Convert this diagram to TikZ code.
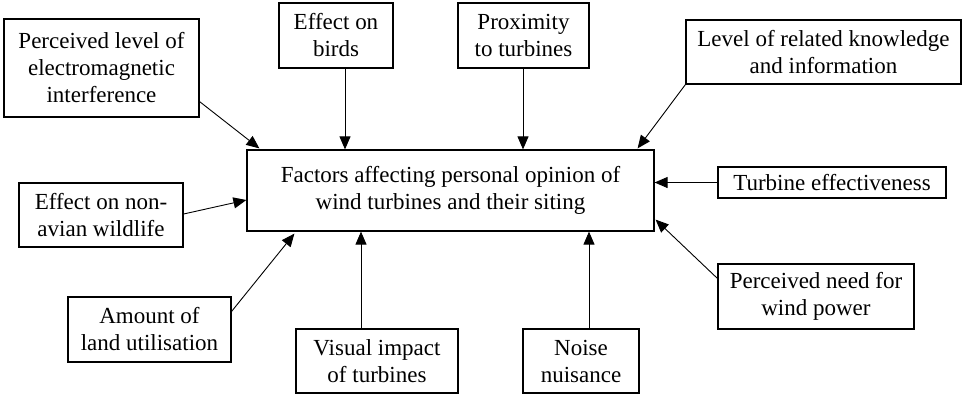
\documentclass[tikz,border=0pt]{standalone}
\usepackage{fontspec}
\setmainfont{Liberation Serif}
\usetikzlibrary{arrows.meta,calc}

\tikzset{
  factor/.style={draw=black, line width=1.2pt, fill=white, align=center, inner sep=0pt,
    font=\fontsize{23}{27}\selectfont},
  feed/.style={draw=black, line width=0.9pt, -{Triangle[length=13pt,width=11pt]}}
}

\begin{document}
\begin{tikzpicture}[x=1pt,y=-1pt]
\useasboundingbox (0,0) rectangle (962,394);

% central box
\node[factor, minimum width=407pt, minimum height=81pt] (center) at (450.5,190.5)
  {Factors affecting personal opinion of\\wind turbines and their siting};

% surrounding factors
\node[factor, minimum width=195pt, minimum height=98pt] (pel) at (101.5,68)
  {Perceived level of\\electromagnetic\\interference};
\node[factor, minimum width=114pt, minimum height=65pt] (birds) at (336,35.5)
  {Effect on\\birds};
\node[factor, minimum width=131pt, minimum height=65pt] (prox) at (523.5,35.5)
  {Proximity\\to turbines};
\node[factor, minimum width=275pt, minimum height=64pt] (know) at (823.5,52)
  {Level of related knowledge\\and information};
\node[factor, minimum width=228pt, minimum height=31pt] (eff) at (832,182.5)
  {Turbine effectiveness};
\node[factor, minimum width=196pt, minimum height=65pt] (need) at (816,296.5)
  {Perceived need for\\wind power};
\node[factor, minimum width=164pt, minimum height=64pt] (avian) at (101,215)
  {Effect on non-\\avian wildlife};
\node[factor, minimum width=163pt, minimum height=65pt] (land) at (149.5,329.5)
  {Amount of\\land utilisation};
\node[factor, minimum width=162pt, minimum height=64pt] (visual) at (377,361)
  {Visual impact\\of turbines};
\node[factor, minimum width=116pt, minimum height=64pt] (noise) at (581,361)
  {Noise\\nuisance};

% connectors into the central box
\draw[feed] ($(pel.south east)+(0,-16)$) -- ($(center.north west)+(13,-1)$);
\draw[feed] (birds.south -| 345,0) -- (center.north -| 345,0);
\draw[feed] (prox.south -| 523,0) -- (center.north -| 523,0);
\draw[feed] (know.south west) -- ($(center.north east)+(-17,-1)$);
\draw[feed] (eff.west) -- (eff.west -| center.east);
\draw[feed] ($(need.north west)+(0,15)$) -- ($(center.south east)+(1,-12)$);
\draw[feed] ($(avian.east)+(0,-1)$) -- ($(center.west)+(0,9.5)$);
\draw[feed] ($(land.north east)+(0,15)$) -- ($(center.south west)+(48,2)$);
\draw[feed] (visual.north -| 361,0) -- (center.south -| 361,0);
\draw[feed] (noise.north -| 589,0) -- (center.south -| 589,0);
\end{tikzpicture}
\end{document}
